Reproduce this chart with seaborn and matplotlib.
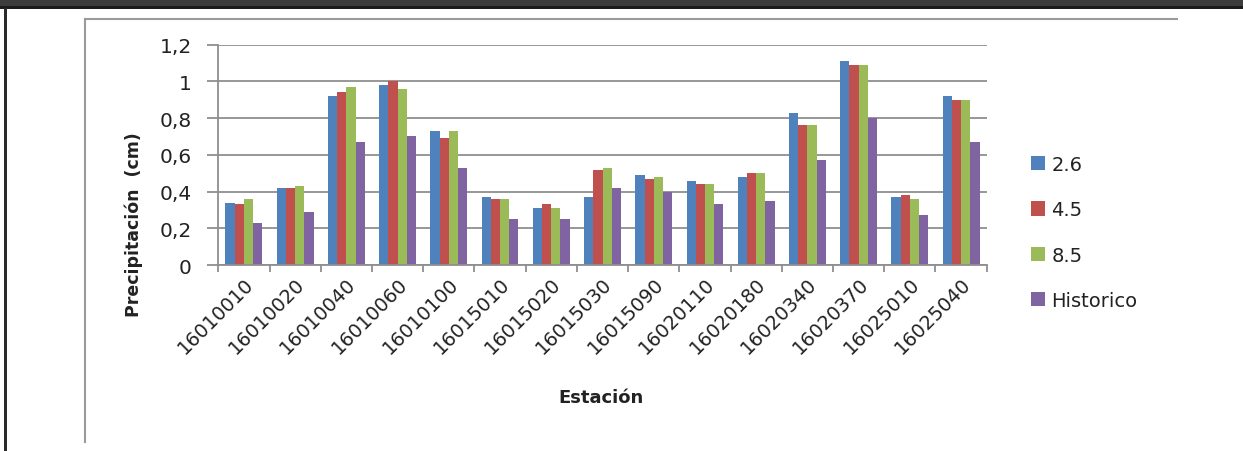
import pandas as pd
import matplotlib
matplotlib.use('Agg')
import matplotlib.pyplot as plt
from matplotlib.lines import Line2D
from matplotlib.patches import Rectangle
import seaborn as sb
import numpy as np

# Estaciones y valores
estaciones = ['16010010', '16010020', '16010040', '16010060', '16010100',
              '16015010', '16015020', '16015030', '16015090', '16020110',
              '16020180', '16020340', '16020370', '16025010', '16025040']
esc_26 = [0.34, 0.42, 0.92, 0.98, 0.73, 0.37, 0.31, 0.37, 0.49, 0.46, 0.48, 0.83, 1.11, 0.37, 0.92]
esc_45 = [0.33, 0.42, 0.94, 1.00, 0.69, 0.36, 0.33, 0.52, 0.47, 0.44, 0.50, 0.76, 1.09, 0.38, 0.90]
esc_85 = [0.36, 0.43, 0.97, 0.96, 0.73, 0.36, 0.31, 0.53, 0.48, 0.44, 0.50, 0.76, 1.09, 0.36, 0.90]
historico = [0.23, 0.29, 0.67, 0.70, 0.53, 0.25, 0.25, 0.42, 0.40, 0.33, 0.35, 0.57, 0.80, 0.27, 0.67]
series = ['2.6', '4.5', '8.5', 'Historico']
yticks = [0, 0.2, 0.4, 0.6, 0.8, 1.0, 1.2]
ytick_labels = ['0', '0,2', '0,4', '0,6', '0,8', '1', '1,2']

colores = ['#4F81BD', '#C0504D', '#9BBB59', '#8064A2']

df = pd.DataFrame({'estacion': estaciones * 4,
                   'serie': np.repeat(series, len(estaciones)),
                   'valor': esc_26 + esc_45 + esc_85 + historico})

W, H = 1243, 452
fig = plt.figure(figsize=(W / 100, H / 100), dpi=100)
fig.patch.set_facecolor('white')


def fx(px):
    return px / W


def fy(py):
    return 1 - py / H


# marco de la captura
fig.add_artist(Rectangle((0, fy(8)), 1, 1 - fy(8), transform=fig.transFigure, color='#3c3c3c', lw=0))
fig.add_artist(Rectangle((0, fy(9.5)), 1, fy(7) - fy(9.5), transform=fig.transFigure, color='#1c1c1c', lw=0))
fig.add_artist(Rectangle((fx(4), 0), fx(3), fy(9), transform=fig.transFigure, color='#2a2a2a', lw=0))
fig.add_artist(Line2D([fx(85), fx(85)], [fy(20), fy(443)], transform=fig.transFigure, color='#9a9a9a', lw=1.5))
fig.add_artist(Line2D([fx(85), fx(1177)], [fy(20), fy(20)], transform=fig.transFigure, color='#9a9a9a', lw=1.5))

ax = fig.add_axes([fx(218.3), fy(266), fx(986.7) - fx(218.3), fy(45.7) - fy(266)])
sb.barplot(data=df, x='estacion', y='valor', hue='serie', palette=colores,
           width=0.72, gap=0, ax=ax, linewidth=0, saturation=1)

ax.set_xlim(-0.5, len(estaciones) - 0.5)
ax.set_ylim(0, 1.2)
ax.set_yticks(yticks)
ax.set_yticklabels(ytick_labels)
ax.yaxis.grid(True, color='#8f8f8f', lw=1.3)
ax.set_axisbelow(True)
for s in ['top', 'right']:
    ax.spines[s].set_visible(False)
for s in ['left', 'bottom']:
    ax.spines[s].set_color('#8f8f8f')
    ax.spines[s].set_linewidth(1.3)

ax.tick_params(axis='y', length=8, width=1.3, color='#8f8f8f', pad=11, labelsize=14.5, labelcolor='#222222')
ax.tick_params(axis='x', which='major', length=0, pad=6, labelsize=14, labelcolor='#222222')
ax.set_xticks(np.arange(-0.5, len(estaciones)), minor=True)
ax.tick_params(axis='x', which='minor', length=5, width=1.3, color='#8f8f8f')
for lbl in ax.get_xticklabels():
    lbl.set_rotation(45)
    lbl.set_ha('right')
    lbl.set_rotation_mode('anchor')

ax.set_xlabel('')
ax.set_ylabel('')
fig.text(fx(601), fy(398), 'Estación', ha='center', va='center', fontsize=13, fontweight='bold', color='#222222')
fig.text(fx(133.5), fy(225), 'Precipitación  (cm)', ha='center', va='center', rotation=90,
         fontsize=12.5, fontweight='bold', color='#222222')

ax.legend_.remove()
handles = [Rectangle((0, 0), 1, 1, facecolor=c, edgecolor='none') for c in colores]
fig.legend(handles, series, loc='center left', bbox_to_anchor=(fx(1021), fy(233.5)),
           frameon=False, fontsize=14, handlelength=0.75, handleheight=0.75,
           handletextpad=0.3, labelspacing=1.35, borderpad=0, labelcolor='#222222')

fig.savefig('out.png', dpi=100)
